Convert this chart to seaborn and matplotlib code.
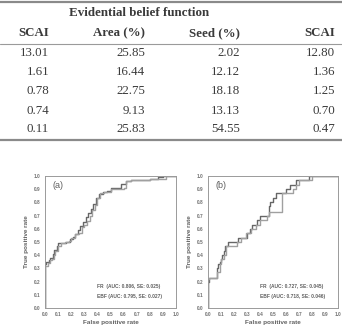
import pandas as pd
import seaborn as sns
import matplotlib
matplotlib.use("Agg")
import matplotlib.pyplot as plt
from matplotlib.lines import Line2D

# table values
SCAI_LEFT = [13.01, 1.61, 0.78, 0.74, 0.11]
AREA_PCT = [25.85, 16.44, 22.75, 9.13, 25.83]
SEED_PCT = [2.02, 12.12, 18.18, 13.13, 54.55]
SCAI_RIGHT = [12.80, 1.36, 1.25, 0.70, 0.47]
TABLE_HEADERS = ["SCAI", "Area (%)", "Seed (%)", "SCAI"]
TABLE_TITLE = "Evidential belief function"

# ROC curves, panel (a)
FPR_A_FR = [0, 0.00, 0.01, 0.03, 0.04, 0.06, 0.07, 0.09, 0.10, 0.13, 0.16, 0.19, 0.21, 0.23, 0.25, 0.27, 0.29,
            0.31, 0.33, 0.35, 0.37, 0.39, 0.41, 0.44, 0.47, 0.50, 0.55, 0.58, 0.62, 0.66, 0.72, 0.80, 0.86, 0.90, 1.00]
TPR_A_FR = [0, 0.33, 0.35, 0.36, 0.38, 0.41, 0.44, 0.47, 0.49, 0.49, 0.50, 0.52, 0.54, 0.56, 0.59, 0.62, 0.65,
            0.69, 0.72, 0.75, 0.79, 0.83, 0.86, 0.88, 0.89, 0.91, 0.91, 0.94, 0.96, 0.97, 0.97, 0.98, 0.99, 1.00, 1.00]
FPR_A_EBF = [0, 0.00, 0.02, 0.04, 0.05, 0.07, 0.08, 0.10, 0.12, 0.15, 0.18, 0.20, 0.23, 0.26, 0.28, 0.30, 0.32,
             0.34, 0.36, 0.38, 0.40, 0.42, 0.45, 0.50, 0.55, 0.60, 0.62, 0.66, 0.75, 0.80, 0.86, 0.92, 1.00]
TPR_A_EBF = [0, 0.32, 0.34, 0.36, 0.37, 0.40, 0.43, 0.47, 0.49, 0.50, 0.51, 0.53, 0.56, 0.57, 0.61, 0.63, 0.66,
             0.70, 0.74, 0.78, 0.83, 0.87, 0.88, 0.90, 0.90, 0.91, 0.96, 0.97, 0.97, 0.98, 0.98, 1.00, 1.00]

# ROC curves, panel (b)
FPR_B_FR = [0, 0.00, 0.01, 0.06, 0.07, 0.08, 0.09, 0.10, 0.11, 0.12, 0.13, 0.15, 0.20, 0.23, 0.27, 0.30, 0.32,
            0.34, 0.36, 0.38, 0.40, 0.45, 0.47, 0.48, 0.50, 0.52, 0.55, 0.60, 0.63, 0.66, 0.68, 0.77, 0.78, 1.00]
TPR_B_FR = [0, 0.20, 0.23, 0.23, 0.30, 0.33, 0.35, 0.37, 0.40, 0.43, 0.47, 0.50, 0.50, 0.53, 0.53, 0.57, 0.60,
            0.63, 0.63, 0.67, 0.70, 0.70, 0.77, 0.80, 0.83, 0.87, 0.87, 0.90, 0.93, 0.93, 0.97, 0.97, 1.00, 1.00]
FPR_B_EBF = [0, 0.00, 0.01, 0.06, 0.07, 0.09, 0.10, 0.12, 0.14, 0.17, 0.22, 0.25, 0.29, 0.31, 0.33, 0.35, 0.37,
             0.40, 0.45, 0.47, 0.55, 0.57, 0.62, 0.65, 0.68, 0.70, 0.78, 0.80, 1.00]
TPR_B_EBF = [0, 0.22, 0.23, 0.23, 0.27, 0.33, 0.37, 0.40, 0.47, 0.47, 0.50, 0.53, 0.57, 0.57, 0.60, 0.60, 0.63,
             0.67, 0.70, 0.73, 0.73, 0.87, 0.87, 0.90, 0.93, 0.97, 0.97, 1.00, 1.00]

LEGEND_A = ["FR  (AUC: 0.806, SE: 0.025)", "EBF (AUC: 0.795, SE: 0.027)"]
LEGEND_B = ["FR  (AUC: 0.727, SE: 0.045)", "EBF (AUC: 0.718, SE: 0.046)"]

W, H = 342, 327
TEXT_COLOR = "#3a3a3a"
CURVE_COLORS = {"FR": "#666666", "EBF": "#a0a0a0"}


def fx(px):
    return px / W


def fy(py):
    return 1 - py / H


def draw_table(fig):
    serif = "Liberation Serif"
    fig.add_artist(Line2D([0, 1], [fy(1.5), fy(1.5)], color="#8a8a8a", lw=1.6))
    fig.add_artist(Line2D([0, 1], [fy(43.5), fy(43.5)], color="#9a9a9a", lw=0.8))
    fig.add_artist(Line2D([0, 1], [fy(139.5), fy(139.5)], color="#8a8a8a", lw=1.6))

    fig.text(fx(139), fy(13), TABLE_TITLE, ha="center", va="center", family=serif,
             weight="bold", size=9.4, color=TEXT_COLOR)

    right_edges = [49, 145, 240, 335]
    for x, head in zip(right_edges, TABLE_HEADERS):
        fig.text(fx(x), fy(33), head, ha="right", va="center", family=serif,
                 weight="bold", size=9.3, color=TEXT_COLOR)

    row_y = [53, 72, 91.5, 110.5, 129]
    columns = [SCAI_LEFT, AREA_PCT, SEED_PCT, SCAI_RIGHT]
    for x, values in zip(right_edges, columns):
        for y, v in zip(row_y, values):
            fig.text(fx(x), fy(y), f"{v:.2f}", ha="right", va="center", family=serif,
                     size=9.3, color=TEXT_COLOR)


def draw_roc(ax, fpr_fr, tpr_fr, fpr_ebf, tpr_ebf, tag, legend_lines):
    df = pd.concat([
        pd.DataFrame({"fpr": fpr_fr, "tpr": tpr_fr, "model": "FR"}),
        pd.DataFrame({"fpr": fpr_ebf, "tpr": tpr_ebf, "model": "EBF"}),
    ], ignore_index=True)
    sns.lineplot(data=df, x="fpr", y="tpr", hue="model", palette=CURVE_COLORS,
                 estimator=None, sort=False, drawstyle="steps-post", lw=1.0,
                 legend=False, ax=ax)

    ticks = [i / 10 for i in range(11)]
    ax.set_xlim(0, 1)
    ax.set_ylim(0, 1)
    ax.set_xticks(ticks)
    ax.set_yticks(ticks)
    ax.set_xticklabels([f"{t:.1f}" for t in ticks])
    ax.set_yticklabels([f"{t:.1f}" for t in ticks])
    ax.tick_params(length=0, pad=3, labelsize=3.4, labelcolor="#707070")
    for lab in ax.get_xticklabels() + ax.get_yticklabels():
        lab.set_fontweight("bold")
    for spine in ax.spines.values():
        spine.set_visible(True)
        spine.set_color("#9a9a9a")
        spine.set_linewidth(0.7)

    ax.set_xlabel("False positive rate", size=4.6, weight="bold", color="#606060", labelpad=2.2)
    ax.set_ylabel("True positive rate", size=4.6, weight="bold", color="#606060", labelpad=4)
    ax.text(0.06, 0.93, tag, transform=ax.transAxes, size=6.5, color="#606060", va="center")
    ax.text(0.40, 0.165, legend_lines[0], transform=ax.transAxes, size=3.5, weight="bold",
            color="#606060", va="center")
    ax.text(0.40, 0.09, legend_lines[1], transform=ax.transAxes, size=3.5, weight="bold",
            color="#606060", va="center")


def main():
    sns.set_theme(style="white")
    plt.rcParams["font.family"] = ["Liberation Sans", "DejaVu Sans"]

    fig = plt.figure(figsize=(W / 100, H / 100), dpi=100)
    fig.patch.set_facecolor("white")
    draw_table(fig)

    ax_a = fig.add_axes([fx(45), fy(308), 131 / W, 132 / H])
    ax_b = fig.add_axes([fx(208), fy(308), 130 / W, 132 / H])
    draw_roc(ax_a, FPR_A_FR, TPR_A_FR, FPR_A_EBF, TPR_A_EBF, "(a)", LEGEND_A)
    draw_roc(ax_b, FPR_B_FR, TPR_B_FR, FPR_B_EBF, TPR_B_EBF, "(b)", LEGEND_B)

    fig.savefig("out.png", dpi=100)
    plt.close(fig)


if __name__ == "__main__":
    main()
